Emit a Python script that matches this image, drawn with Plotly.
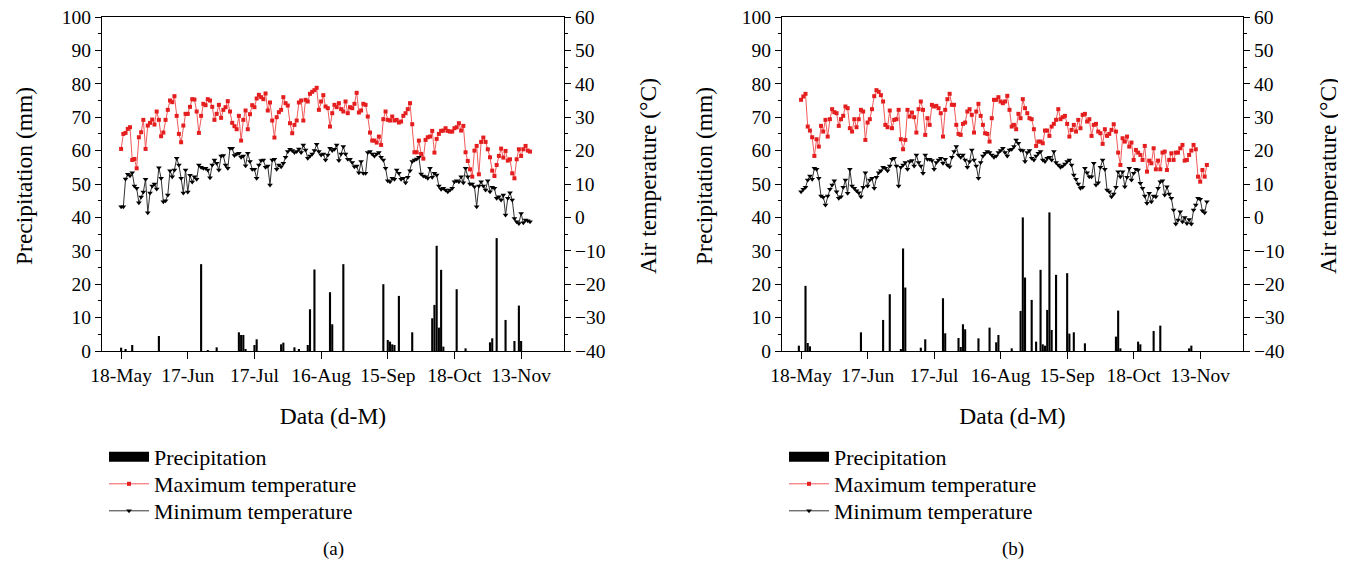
import plotly.graph_objects as go

# ---------------- data ----------------
tick_days = [0, 30, 60, 90, 120, 150, 180]
tick_labels = ["18-May", "17-Jun", "17-Jul", "16-Aug", "15-Sep", "18-Oct", "13-Nov"]

# panel (a) daily maximum temperature (°C)
tmax_a = [20.5, 25, 25.3, 26.5, 27, 17.2, 17.5, 14.7, 24, 25.5,
          29.2, 20.5, 27.5, 28.3, 29.3, 27.8, 31.7, 29.2, 24.3, 25.4,
          29.2, 32.2, 35, 34.5, 36.3, 30.4, 25, 22.5, 27.5, 31,
          31, 33.1, 35.4, 35.3, 31.7, 25.3, 30.4, 34, 33.6, 35.4,
          35, 33.1, 29.2, 31, 33.7, 29.8, 32.2, 33, 34.8, 31.7,
          28.3, 27.3, 26.4, 30.4, 23, 29.2, 32, 26.4, 30.9, 33.6,
          33, 35.6, 36.7, 36,
          35.4, 37.1, 32, 34.4, 29, 23.9, 30, 31.5, 32.2, 36,
          34.2, 33.5, 28.2, 25.2, 27.7, 29, 34.4, 35, 29, 35.2,
          34.7, 37, 37.6, 38.1, 38.8, 32.2, 34.7, 36.6, 33.2, 32.7,
          27.2, 31.2, 33.7, 33, 34.2, 32.4, 31.7, 34.7, 31.2, 33,
          32.7, 34, 37.3, 31.4, 32, 34, 33.7, 30.2, 25.4, 23,
          23, 22.4, 24.2, 21.7, 29.4, 31.7, 29.2, 29, 30.2, 29,
          29.2, 28.4, 28.7, 30.4, 31.2, 32.4, 34.2,
          27.9, 19.5, 19.5, 23, 19, 17.6, 23.2, 24, 24.2, 25.9,
          19.4, 23.5, 25, 25.9, 26, 26.7, 25.9, 25.7, 25.7, 26.7,
          27, 28.2, 26, 27.4, 19.5, 16.9, 14.4, 12.2, 20, 21.4,
          12.9, 22.6, 23.9, 22.6, 20.4, 18, 14, 12.4, 15.7, 18.4,
          20.6, 17.9, 19.9, 17, 17.4, 13.2, 11.7, 17.4, 20.4, 18.4,
          20.4, 21.4, 20, 19.7]

# panel (a) daily minimum temperature (°C)
tmin_a = [3.2, 3.2, 11.5, 12.9, 12.5, 13.4, 9.4, 8.7, 4.4, 6.1,
          7.6, 11.4, 1.4, 7.3, 9.4, 10, 8.5, 14.9, 11.7, 4.7,
          5, 6.7, 14, 12.2, 14.2, 17.7, 15.7, 11.7, 7.3, 14.2,
          7.6, 12.6, 10.6, 12.2, 11.4, 15.7, 15, 14.7, 14.7, 14.2,
          11.9, 15.7, 17.2, 16.2, 14.2, 18.4, 18.5, 15.7, 14.7, 20.7,
          20.7, 18.5, 19, 19.2, 18, 18.4, 15.5, 19.2, 16.7, 14.4,
          14.4, 11.7, 15.7, 17,
          17.2, 15, 15.4, 9.7, 17.2, 17.4, 14.4, 15.7, 15.2, 16.2,
          18, 19.7, 20.4, 20, 19.4, 19.7, 20.5, 19.4, 21.7, 20.2,
          17.7, 18.4, 19, 20, 21.9, 19.7, 18.7, 19, 17.2, 18.7,
          20.7, 20, 20.4, 21.7, 17, 19, 21.2, 19, 17.4, 17.4,
          16.4, 15.2, 15.4, 13.4, 16.7, 13.2, 13.2, 19.4, 19.7, 19,
          18.4, 19, 19.4, 18, 17.2, 14.7, 11, 10.7, 11.7, 11.4,
          14.2, 13.2, 11.4, 11.7, 10.4, 12, 14,
          16.7, 17.2, 17.5, 18, 13, 12.4, 12.2, 11.7, 14.7, 12,
          13.2, 12.7, 9.4, 8.4, 8.7, 8.2, 7.7, 8.2, 8.7, 10.7,
          11, 10.7, 12.2, 10.4, 14.7, 12.2, 10, 10, 9.2, 3.2,
          9.4, 10.7, 9.4, 8.2, 11, 7.7, 9, 8.7, 5.7, 6.2,
          5.2, 6.7, 0.7, 5.7, 7.4, 5.2, -0.3, -1.3, -1.8, 1.2,
          -1.6, -0.8, -1, -1.3]

# panel (a) precipitation (day index, mm)
rain_day_a = [0, 2, 5, 17, 36, 39, 43, 53, 54, 55, 56, 60, 61, 72, 73, 78, 80,
              84, 85, 87, 94, 95, 100, 118, 120, 121, 122, 123, 125, 131,
              140, 141, 142, 143, 144, 145, 151, 155, 166, 167, 169, 173,
              177, 179, 180]
rain_mm_a = [1.0, 0.6, 1.8, 4.5, 26, 0.3, 1.1, 5.6, 4.8, 4.8, 0.4, 1.8, 3.5, 2, 2.5, 1.1, 0.4,
             1.8, 12.5, 24.4, 17.6, 8, 26, 20, 3.3, 2.8, 2, 1.8, 16.5, 5.6,
             9.8, 13.8, 31.5, 7, 24.3, 1.3, 18.5, 0.8, 2.6, 3.8, 33.8, 9.3,
             3, 13.6, 3]

# panel (b) daily maximum temperature (°C)
tmax_b = [35.2, 36.2, 37, 27.2, 26, 24, 18.4, 23.4, 21.2, 27.4,
          25.7, 29.2, 24.2, 29.4, 32.4, 31.5, 31.2, 27.4, 29.4, 30.4,
          33.2, 32.7, 26.7, 25.7, 29.4, 27, 29.4, 32.2, 31.7, 23.2,
          28.4, 29.4, 32.4, 36.3, 38.1, 37.6, 36.6, 34.7, 27.7, 27,
          32, 26.7, 29.2, 29.4, 32.2, 23.4, 20.4, 23.2, 32.2, 30.2,
          31.4, 30, 25.4, 32.4, 34.7, 32.2, 24.7, 29.7, 27.7, 33.7,
          33.2, 33.4, 32.7, 31.2,
          24.2, 32.2, 35.4, 37, 33.7, 33.7, 27.7, 25, 24.7, 28,
          28.4, 31.7, 32.4, 30.7, 25.4, 31.7, 34, 30.4, 27.7, 25.2,
          25, 22.7, 29.7, 35.2, 35.2, 36, 34.7, 34.2, 34.7, 36.4,
          32.2, 27.2, 27.7, 26.4, 31, 29.7, 35.4, 32.7, 31.2, 29.7,
          29.4, 26.4, 21.4, 22.7, 22.7, 22.2, 26, 26, 24.4, 27.2,
          28, 29.2, 32.4, 29.4, 30, 30.4, 28, 24.2, 26.2, 27.7,
          25.7, 29.2, 26.7, 30.7, 31, 28.7, 29.4, 24.4,
          27.7, 28, 25.7, 25.2, 22, 26.4, 24.4, 25, 26.2, 27.9,
          25.7, 19.4, 15.7, 23.7, 22.7, 24.2, 21.2, 22.4, 17.2, 20.2,
          19.4, 18.7, 17.2, 21.4, 13.7, 17, 16.2, 20.7, 14.4, 17,
          14.4, 19.4, 19.7, 14.2, 17.2, 19.2, 17.2, 19.4, 19.4, 20.7,
          21.7, 17, 17.2, 18.7, 20, 21.7, 20.4, 12.2, 10.7, 14.2,
          12.2, 15.7]

# panel (b) daily minimum temperature (°C)
tmin_b = [7.7, 8.4, 9, 11.2, 12.4, 11.4, 14.7, 14.4, 11.7, 6.4,
          6, 3.7, 6.4, 8.4, 9.7, 11, 7.7, 5.7, 6.2, 9,
          11.2, 7.2, 14.4, 9.4, 8.7, 8, 7.4, 6.2, 9, 13.4,
          9.4, 11.2, 11.7, 8.7, 12, 13.4, 14, 15, 14.7, 14,
          15.4, 17.4, 17.7, 15.4, 9.4, 15, 15.7, 16.4, 14.4, 16.7,
          17, 15.4, 18.7, 16.4, 15.4, 13.2, 18.7, 17.4, 17.4, 17,
          14.4, 16.4, 17.2, 17.7,
          16.2, 17.4, 15.7, 15.2, 18, 19.7, 21.2, 18.7, 18, 18.7,
          17.2, 15, 16.7, 20.2, 17.2, 15.4, 11.7, 16.4, 18.4, 19.2,
          19.7, 19.4, 18.7, 18, 18.4, 19.4, 20, 20.7, 19.4, 18.4,
          20.2, 20.4, 21.2, 23.2, 22.2, 20.2, 20, 16.7, 19.4, 20,
          17.7, 17.2, 18.4, 19.2, 19.7, 17.2, 16.7, 17.7, 18, 17.2,
          19.7, 16.4, 15.7, 15, 15.4, 16, 16.7, 17.2, 15.7, 12.7,
          11.4, 10, 8.7, 9, 14.7, 13.4, 12.2, 12.2,
          16.2, 9.7, 10.4, 15, 17.2, 14.4, 8.2, 7.7, 6.2, 7,
          9, 13.7, 12.2, 13.7, 9.2, 12, 14.7, 11.2, 13.2, 14.4,
          14.2, 10.2, 8.7, 6.4, 4.2, 7.2, 4.7, 6.4, 6.2, 8.7,
          10.7, 11, 6.7, 9.2, 7, 5.7, 2.2, -2, -0.8, 1.7,
          -1.3, 0, -1.8, -0.6, -2, 2.2, 3.7, 5.7, 5.4, 2,
          1.4, 4.7]

# panel (b) precipitation (day index, mm)
rain_day_b = [-1, 2, 3, 4, 27, 37, 40, 45, 46, 47, 54, 56, 64, 65, 71, 72, 73, 74,
              80, 85, 88, 89, 95, 99, 100, 101, 104, 106, 108, 109, 110, 111,
              112, 113, 115, 120, 121, 123, 128, 142, 143, 144, 152, 153,
              159, 162, 175, 176]
rain_mm_b = [1.6, 19.5, 2.4, 1.4, 5.6, 9.3, 17, 0.5, 30.7, 19, 1, 3.5, 15.8, 5.3, 3.9, 1.2, 8, 6.5,
             3.8, 7, 2.6, 4.8, 0.8, 12, 40, 22, 15.3, 2.8, 24.3, 2, 1.6, 12.3,
             41.5, 6.3, 22.8, 23.3, 5.2, 5.6, 2.3, 4.3, 12.1, 0.8, 2.8, 2,
             6, 7.6, 0.8, 1.6]

# ---------------- styling ----------------
FONT = "Liberation Serif"
FS_TICK = 19.5
FS_TITLE = 23.5
FS_LEG = 22
RED_LINE = "rgb(240,90,90)"
RED_MK = "rgb(228,30,30)"
BLK_LINE = "rgb(50,50,50)"

PAGE_W, PAGE_H = 1346, 563
OFF = 8                      # default page body margin
W, H = PAGE_W - OFF, PAGE_H - OFF


def px(x):
    return (x - OFF) / W


def py(y):
    return 1 - (y - OFF) / H


y_top, y_bot = 17, 351
panels = [
    dict(x0=102, x1=564, xa="x", ya="y", ya2="y2", lg=["legend", "legend2", "legend3"], lx=104,
         ytl=24, ytr=648,
         tmax=tmax_a, tmin=tmin_a, rd=rain_day_a, rm=rain_mm_a, cap="(a)"),
    dict(x0=782, x1=1243, xa="x2", ya="y3", ya2="y4", lg=["legend4", "legend5", "legend6"], lx=784,
         ytl=704, ytr=1328,
         tmax=tmax_b, tmin=tmin_b, rd=rain_day_b, rm=rain_mm_b, cap="(b)"),
]
legend_rows = [457, 484, 511]
ytitle_y = 176

fig = go.Figure()
layout = dict(width=W, height=H, margin=dict(l=0, r=0, t=0, b=0, autoexpand=False),
              paper_bgcolor="white", plot_bgcolor="white",
              font=dict(family=FONT, size=FS_TICK, color="black"),
              barmode="overlay", annotations=[])


def axname(ref):
    return ("xaxis" if ref[0] == "x" else "yaxis") + ref[1:]


for p in panels:
    days_max = list(range(len(p["tmax"])))
    days_min = list(range(len(p["tmin"])))
    fig.add_trace(go.Bar(x=p["rd"], y=p["rm"], width=0.95, marker=dict(color="black", line=dict(width=0)),
                         xaxis=p["xa"], yaxis=p["ya"], showlegend=False, name="Precipitation"))
    # legend entry for precipitation (wide black block)
    fig.add_trace(go.Scatter(x=[None], y=[None], mode="lines", line=dict(color="black", width=14),
                             xaxis=p["xa"], yaxis=p["ya"], name="Precipitation", legend=p["lg"][0]))
    fig.add_trace(go.Scatter(x=days_max, y=p["tmax"], mode="lines+markers",
                             line=dict(color=RED_LINE, width=1),
                             marker=dict(symbol="square", size=4, color=RED_MK),
                             xaxis=p["xa"], yaxis=p["ya2"], name="Maximum temperature", legend=p["lg"][1]))
    fig.add_trace(go.Scatter(x=days_min, y=p["tmin"], mode="lines+markers",
                             line=dict(color=BLK_LINE, width=1),
                             marker=dict(symbol="triangle-down", size=5, color="black"),
                             xaxis=p["xa"], yaxis=p["ya2"], name="Minimum temperature", legend=p["lg"][2]))

    xd = [px(p["x0"]), px(p["x1"])]
    yd = [py(y_bot), py(y_top)]
    common = dict(showline=True, linecolor="black", linewidth=1, showgrid=False, zeroline=False,
                  ticks="outside", tickcolor="black", tickfont=dict(family=FONT, size=FS_TICK),
                  ticklabeloverflow="allow")
    layout[axname(p["xa"])] = dict(domain=xd, anchor=p["ya"], range=[-8.6, 199.3],
                                   tickvals=tick_days, ticktext=tick_labels, ticklen=7,
                                   mirror=True,
                                   title=dict(text="Data (d-M)", standoff=22,
                                              font=dict(family=FONT, size=FS_TITLE)),
                                   **common)
    layout[axname(p["ya"])] = dict(domain=yd, anchor=p["xa"], range=[0, 100], dtick=10, ticklen=6,
                                   minor=dict(ticks="outside", dtick=5, ticklen=3, tickcolor="black"),
                                   **common)
    layout[axname(p["ya2"])] = dict(overlaying=p["ya"], side="right", anchor=p["xa"],
                                    range=[-40, 60], dtick=10, ticklen=6,
                                    minor=dict(ticks="outside", dtick=5, ticklen=3, tickcolor="black"),
                                    **common)
    for lg, row in zip(p["lg"], legend_rows):
        layout[lg] = dict(x=px(p["lx"]), y=py(row), xanchor="left", yanchor="middle",
                          bgcolor="rgba(0,0,0,0)", font=dict(family=FONT, size=FS_LEG),
                          borderwidth=0, itemwidth=40)
    # vertical axis titles
    layout["annotations"].append(dict(text="Precipitation (mm)", x=px(p["ytl"]), y=py(ytitle_y),
                                      xref="paper", yref="paper", showarrow=False, textangle=-90,
                                      xanchor="center", yanchor="middle",
                                      font=dict(family=FONT, size=FS_TITLE)))
    layout["annotations"].append(dict(text="Air temperature (°C)", x=px(p["ytr"]), y=py(ytitle_y),
                                      xref="paper", yref="paper", showarrow=False, textangle=-90,
                                      xanchor="center", yanchor="middle",
                                      font=dict(family=FONT, size=FS_TITLE)))
    layout["annotations"].append(dict(text=p["cap"], x=px((p["x0"] + p["x1"]) / 2), y=py(549),
                                      xref="paper", yref="paper", showarrow=False,
                                      xanchor="center", yanchor="middle",
                                      font=dict(family=FONT, size=19)))

fig.update_layout(**layout)
fig.write_html("out.html")
